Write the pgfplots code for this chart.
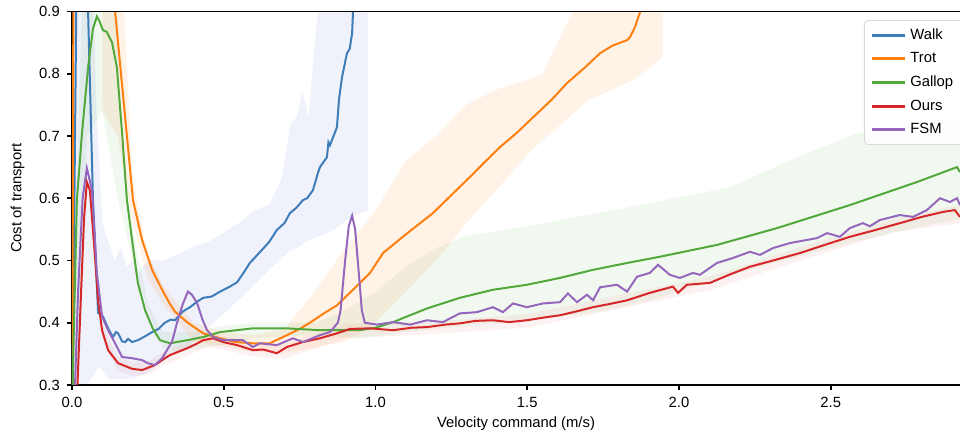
\documentclass[border=0pt]{standalone}
\usepackage{fontspec}
\setmainfont{Liberation Sans}
\usepackage{pgfplots}
\pgfplotsset{compat=1.18}
\definecolor{cWalk}{HTML}{3F7DB8}
\definecolor{cTrot}{HTML}{FF7F0E}
\definecolor{cGallop}{HTML}{52A83A}
\definecolor{cOurs}{HTML}{D62728}
\definecolor{cFSM}{HTML}{9467BD}
\definecolor{bWalk}{HTML}{4A63D0}
\newcommand{\fs}{\fontsize{7.4}{9}\selectfont}

\begin{document}
\begin{tikzpicture}
\begin{axis}[
  name=ax,
  scale only axis, width=444pt, height=186.75pt,
  xmin=0, xmax=2.926, ymin=0.3, ymax=0.9,
  axis lines=left, axis line style={-, black, line width=1pt},
  tick align=outside, major tick length=2.6pt,
  tick style={black, line width=0.8pt},
  xtick={0,0.5,1,1.5,2,2.5}, ytick={0.3,0.4,0.5,0.6,0.7,0.8,0.9},
  /pgf/number format/assume math mode=true,
  xticklabel style={font=\fs, /pgf/number format/.cd, fixed, fixed zerofill, precision=1},
  yticklabel style={font=\fs, /pgf/number format/.cd, fixed, fixed zerofill, precision=1},
  xlabel={Velocity command (m/s)}, ylabel={Cost of transport},
  xlabel style={font=\fs, at={(axis description cs:0.5,-0.083)}, anchor=north, inner sep=0pt},
  ylabel style={font=\fs, at={(axis description cs:-0.053,0.5)}, anchor=south, inner sep=0pt},
  legend style={at={(1.004,0.977)}, anchor=north east, draw=black!15, rounded corners=2pt,
    fill=white, fill opacity=0.8, text opacity=1, font=\fs, row sep=1.1pt,
    inner xsep=3pt, inner ysep=2pt},
  legend cell align=left,
  legend image code/.code={\draw[#1, line width=1.5pt] (0cm,0cm) -- (0.58cm,0cm);},
]
% bands
\addplot[fill=bWalk, fill opacity=0.09, draw=none, forget plot] coordinates {
 (0.005,1.2) (0.06,1.2) (0.08,0.75) (0.1,0.56) (0.12,0.53) (0.14,0.5) (0.16,0.52)
 (0.18,0.49) (0.2,0.5) (0.22,0.48) (0.25,0.5) (0.3,0.5) (0.35,0.51) (0.39,0.52)
 (0.45,0.53) (0.5,0.545) (0.55,0.56) (0.6,0.58) (0.65,0.59) (0.69,0.63) (0.72,0.72)
 (0.74,0.73) (0.76,0.77) (0.78,0.73) (0.8,0.85) (0.81,0.9) (0.82,1.2) (0.975,1.2)
 (0.975,0.58) (0.92,0.57) (0.85,0.545) (0.78,0.533) (0.74,0.52) (0.72,0.517)
 (0.65,0.485) (0.55,0.437) (0.45,0.393) (0.38,0.36) (0.32,0.345) (0.25,0.32)
 (0.2,0.31) (0.12,0.31) (0.09,0.33) (0.05,0.3) (0.005,0.3)} -- cycle;
\addplot[fill=cTrot, fill opacity=0.1, draw=none, forget plot] coordinates {
 (0.1,1.2) (0.14,1.2) (0.2,0.63) (0.25,0.51) (0.3,0.46) (0.4,0.40) (0.5,0.385)
 (0.6,0.38) (0.7,0.39) (0.75,0.42) (0.8,0.45) (0.9,0.52) (1.0,0.58) (1.1,0.66)
 (1.2,0.70) (1.3,0.75) (1.4,0.775) (1.5,0.79) (1.55,0.80) (1.65,0.9) (1.7,1.2)
 (1.947,1.2)
 (1.947,0.827) (1.85,0.79) (1.7,0.757) (1.52,0.68) (1.3,0.56) (1.2,0.5) (1.1,0.45)
 (1.0,0.40) (0.9,0.37) (0.75,0.355) (0.7,0.352) (0.6,0.353) (0.5,0.362)
 (0.4,0.37) (0.3,0.43) (0.25,0.47) (0.2,0.56) (0.15,0.70) (0.1,0.74)} -- cycle;
\addplot[fill=cGallop, fill opacity=0.08, draw=none, forget plot] coordinates {
 (0.015,0.6) (0.05,1.2) (0.14,1.2) (0.16,0.7) (0.2,0.55) (0.25,0.43) (0.3,0.385)
 (0.4,0.385) (0.5,0.395) (0.6,0.4) (0.8,0.40) (0.9,0.42) (1.0,0.45) (1.1,0.49)
 (1.2,0.52) (1.3,0.54) (1.5,0.555) (1.84,0.586) (2.17,0.618) (2.39,0.666)
 (2.59,0.705) (2.8,0.72) (2.926,0.73)
 (2.926,0.565) (2.9,0.565) (2.56,0.528) (2.23,0.485) (1.9,0.435) (1.72,0.416)
 (1.4,0.4) (1.1,0.385) (0.95,0.375) (0.8,0.38) (0.6,0.375) (0.45,0.36) (0.35,0.355)
 (0.3,0.36) (0.25,0.42) (0.2,0.5) (0.15,0.6) (0.1,0.74) (0.05,0.7) (0.015,0.3)} -- cycle;
\addplot[fill=cOurs, fill opacity=0.06, draw=none, forget plot] coordinates {
 (0.1,0.398) (0.15,0.345) (0.2,0.336) (0.25,0.338) (0.3,0.352) (0.45,0.385)
 (0.6,0.366) (0.7,0.366) (0.9,0.398) (1.2,0.402) (1.5,0.414) (1.8,0.444)
 (2.1,0.474) (2.4,0.522) (2.7,0.566) (2.926,0.59)
 (2.926,0.56) (2.7,0.545) (2.4,0.5) (2.1,0.452) (1.8,0.422) (1.5,0.392)
 (1.2,0.382) (0.9,0.375) (0.7,0.342) (0.6,0.346) (0.45,0.362) (0.3,0.33)
 (0.25,0.316) (0.2,0.315) (0.15,0.322) (0.1,0.375)} -- cycle;
% lines
\addplot[cWalk, line width=1pt] coordinates {
 (0.002,0.30) (0.016,1.0) (0.05,1.0) (0.053,0.9) (0.069,0.60) (0.086,0.416)
 (0.102,0.41) (0.12,0.39) (0.135,0.377) (0.145,0.385) (0.152,0.383) (0.165,0.37)
 (0.175,0.369) (0.185,0.374) (0.198,0.369) (0.217,0.372) (0.24,0.378) (0.264,0.385)
 (0.285,0.39) (0.306,0.40) (0.325,0.405) (0.339,0.404) (0.365,0.418) (0.389,0.425)
 (0.41,0.433) (0.432,0.44) (0.46,0.442) (0.488,0.45) (0.52,0.458) (0.544,0.465)
 (0.565,0.48) (0.586,0.496) (0.626,0.517) (0.65,0.53) (0.675,0.549) (0.7,0.56)
 (0.718,0.576) (0.74,0.585) (0.761,0.597) (0.775,0.6) (0.794,0.613) (0.81,0.64)
 (0.817,0.65) (0.840,0.666) (0.845,0.69) (0.850,0.685) (0.873,0.714) (0.880,0.76)
 (0.890,0.795) (0.906,0.833) (0.915,0.84) (0.923,0.865) (0.926,0.9) (0.93,1.0)};
\addlegendentry{Walk}
\addplot[cTrot, line width=1pt] coordinates {
 (0.001,0.3) (0.005,1.0) (0.13,1.0) (0.142,0.9) (0.201,0.597) (0.231,0.533)
 (0.264,0.485) (0.297,0.453) (0.323,0.43) (0.339,0.418) (0.379,0.401) (0.432,0.383)
 (0.488,0.375) (0.54,0.369) (0.596,0.367) (0.652,0.367) (0.708,0.38) (0.75,0.39)
 (0.784,0.40) (0.83,0.415) (0.873,0.428) (0.93,0.455) (0.982,0.48) (1.025,0.512)
 (1.1,0.542) (1.189,0.576) (1.25,0.605) (1.311,0.634) (1.36,0.658) (1.41,0.682)
 (1.47,0.707) (1.519,0.73) (1.58,0.758) (1.631,0.785) (1.69,0.81) (1.74,0.833)
 (1.78,0.845) (1.829,0.854) (1.839,0.859) (1.855,0.875) (1.871,0.898) (1.88,1.0)};
\addlegendentry{Trot}
\addplot[cGallop, line width=1pt] coordinates {
 (0.002,0.30) (0.016,0.597) (0.033,0.705) (0.053,0.81) (0.069,0.872) (0.082,0.892)
 (0.09,0.885) (0.102,0.87) (0.115,0.867) (0.132,0.85) (0.148,0.81) (0.165,0.705)
 (0.181,0.597) (0.198,0.533) (0.217,0.464) (0.241,0.42) (0.267,0.39) (0.29,0.372)
 (0.323,0.367) (0.38,0.372) (0.432,0.377) (0.488,0.385) (0.596,0.391) (0.708,0.391)
 (0.817,0.388) (0.949,0.388) (1.0,0.392) (1.058,0.401) (1.17,0.423) (1.278,0.44)
 (1.387,0.453) (1.499,0.461) (1.608,0.472) (1.717,0.485) (1.829,0.496) (1.937,0.506)
 (2.125,0.525) (2.323,0.552) (2.563,0.589) (2.784,0.626) (2.916,0.65) (2.926,0.642)};
\addlegendentry{Gallop}
\addplot[cOurs, line width=1pt] coordinates {
 (0.018,0.30) (0.03,0.45) (0.04,0.57) (0.049,0.626) (0.059,0.613) (0.076,0.505)
 (0.086,0.436) (0.099,0.388) (0.119,0.356) (0.152,0.335) (0.198,0.326) (0.231,0.324)
 (0.273,0.332) (0.306,0.343) (0.323,0.348) (0.379,0.359) (0.41,0.366) (0.432,0.372)
 (0.465,0.375) (0.498,0.369) (0.544,0.364) (0.596,0.356) (0.63,0.357) (0.675,0.351)
 (0.708,0.361) (0.761,0.369) (0.817,0.375) (0.873,0.383) (0.916,0.39) (0.982,0.391)
 (1.058,0.388) (1.12,0.392) (1.17,0.393) (1.23,0.397) (1.278,0.399) (1.33,0.403)
 (1.387,0.404) (1.44,0.401) (1.499,0.404) (1.55,0.408) (1.608,0.412) (1.66,0.418)
 (1.717,0.425) (1.77,0.43) (1.829,0.436) (1.904,0.448) (1.98,0.458) (1.997,0.448)
 (2.026,0.461) (2.102,0.464) (2.17,0.478) (2.234,0.49) (2.31,0.5) (2.399,0.512)
 (2.48,0.525) (2.563,0.538) (2.64,0.548) (2.728,0.56) (2.8,0.57) (2.87,0.578)
 (2.909,0.581) (2.926,0.57)};
\addlegendentry{Ours}
\addplot[cFSM, line width=1pt] coordinates {
 (0.01,0.30) (0.02,0.45) (0.035,0.6) (0.049,0.648) (0.066,0.613) (0.082,0.48)
 (0.099,0.41) (0.119,0.388) (0.142,0.367) (0.165,0.345) (0.198,0.343) (0.231,0.34)
 (0.25,0.335) (0.273,0.332) (0.297,0.343) (0.33,0.37) (0.346,0.40) (0.365,0.43)
 (0.382,0.45) (0.395,0.445) (0.412,0.432) (0.43,0.405) (0.445,0.388) (0.465,0.377)
 (0.498,0.372) (0.563,0.372) (0.596,0.361) (0.619,0.367) (0.675,0.364) (0.728,0.375)
 (0.761,0.369) (0.817,0.38) (0.85,0.385) (0.876,0.40) (0.885,0.42) (0.90,0.5)
 (0.912,0.555) (0.923,0.572) (0.933,0.55) (0.945,0.48) (0.955,0.42) (0.965,0.40)
 (1.005,0.397) (1.058,0.401) (1.114,0.397) (1.17,0.404) (1.222,0.401) (1.278,0.415)
 (1.334,0.417) (1.387,0.425) (1.42,0.417) (1.453,0.431) (1.499,0.425) (1.552,0.431)
 (1.608,0.433) (1.634,0.447) (1.664,0.433) (1.697,0.445) (1.717,0.436) (1.74,0.457)
 (1.796,0.461) (1.829,0.45) (1.862,0.474) (1.904,0.48) (1.931,0.493) (1.97,0.477)
 (2.003,0.472) (2.046,0.48) (2.069,0.477) (2.125,0.496) (2.178,0.504) (2.234,0.514)
 (2.267,0.509) (2.31,0.52) (2.366,0.528) (2.455,0.536) (2.488,0.544) (2.53,0.538)
 (2.563,0.552) (2.606,0.56) (2.629,0.555) (2.662,0.565) (2.728,0.573) (2.771,0.57)
 (2.817,0.581) (2.86,0.6) (2.893,0.594) (2.916,0.6) (2.926,0.589)};
\addlegendentry{FSM}
\end{axis}
\draw[black, line width=0.6pt] (ax.north west) -- (ax.north east);
\pgfresetboundingbox
\path[use as bounding box] (-36pt,-26pt) rectangle (444pt,192.5pt);
\end{tikzpicture}
\end{document}
